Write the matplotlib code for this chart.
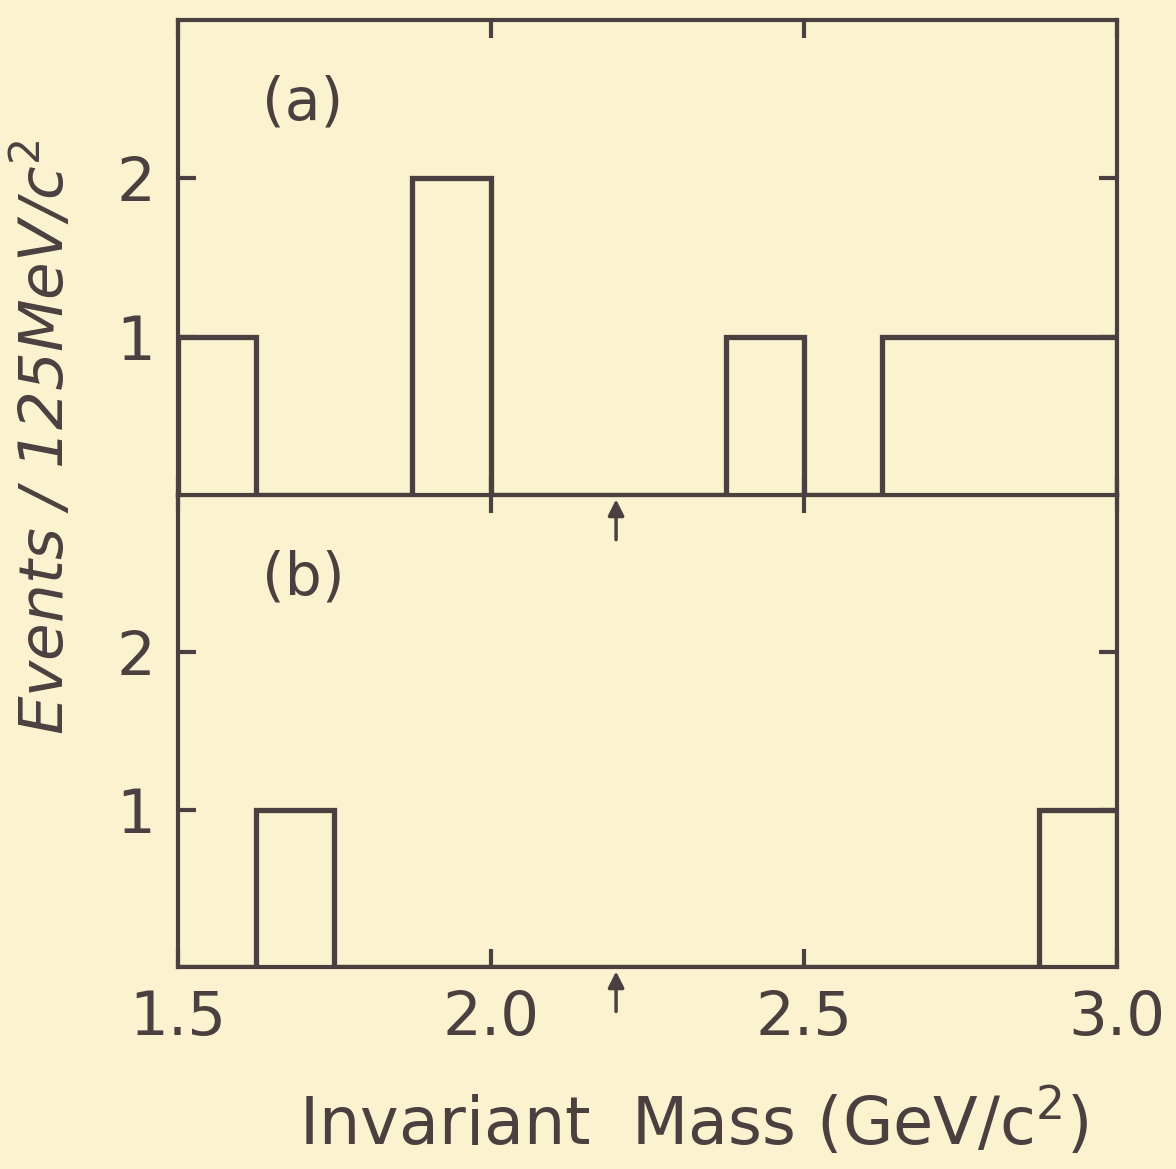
import numpy as np
import matplotlib.pyplot as plt

# bin edges, 125 MeV wide
edges = [1.5, 1.625, 1.75, 1.875, 2.0, 2.125, 2.25, 2.375, 2.5, 2.625, 2.75, 2.875, 3.0]
counts_a = [1, 0, 0, 2, 0, 0, 0, 1, 0, 1, 1, 1]
counts_b = [0, 1, 0, 0, 0, 0, 0, 0, 0, 0, 0, 1]
panel_labels = ["(a)", "(b)"]
arrow_x = 2.2
xticks = [1.5, 2.0, 2.5, 3.0]
xticklabels = ["1.5", "2.0", "2.5", "3.0"]
yticks = [1, 2]

bg = "#fbf3d0"
ink = "#4a4040"

fig = plt.figure(figsize=(11.76, 11.69), dpi=100, facecolor=bg)
ax_a = fig.add_axes([0.151, 0.5766, 0.799, 0.4064])
ax_b = fig.add_axes([0.151, 0.1728, 0.799, 0.4038])
ax_a.set_zorder(3)  # so the arrow under (a) is drawn over (b)

for ax, counts, lab in zip([ax_a, ax_b], [counts_a, counts_b], panel_labels):
    ax.set_facecolor(bg)
    ax.stairs(counts, edges, baseline=0, color=ink, lw=3.8)
    ax.set_xlim(1.5, 3.0)
    ax.set_ylim(0, 3)
    ax.set_yticks(yticks)
    ax.set_xticks(xticks)
    for s in ax.spines.values():
        s.set_color(ink)
        s.set_linewidth(3)
    ax.tick_params(direction="in", length=13, width=3, color=ink,
                   top=True, right=True, labelsize=44, labelcolor=ink, pad=16)
    ax.text(0.09, 0.825, lab, transform=ax.transAxes, fontsize=42, color=ink,
            va="center")
    ax.annotate("", xy=(arrow_x, -0.01), xytext=(arrow_x, -0.3),
                xycoords="data", textcoords="data", annotation_clip=False,
                arrowprops=dict(arrowstyle="-|>", color=ink, lw=2.5, mutation_scale=24))

ax_a.set_xticklabels([])
ax_b.set_xticklabels(xticklabels)

fig.text(0.038, 0.626, "Events / 125MeV/c$^2$", rotation=90, fontsize=44,
         style="italic", color=ink, ha="center", va="center")
fig.text(0.59, 0.04, "Invariant  Mass (GeV/c$^2$)", fontsize=47,
         color=ink, ha="center", va="center")

fig.savefig("out.png", dpi=100, facecolor=bg)
